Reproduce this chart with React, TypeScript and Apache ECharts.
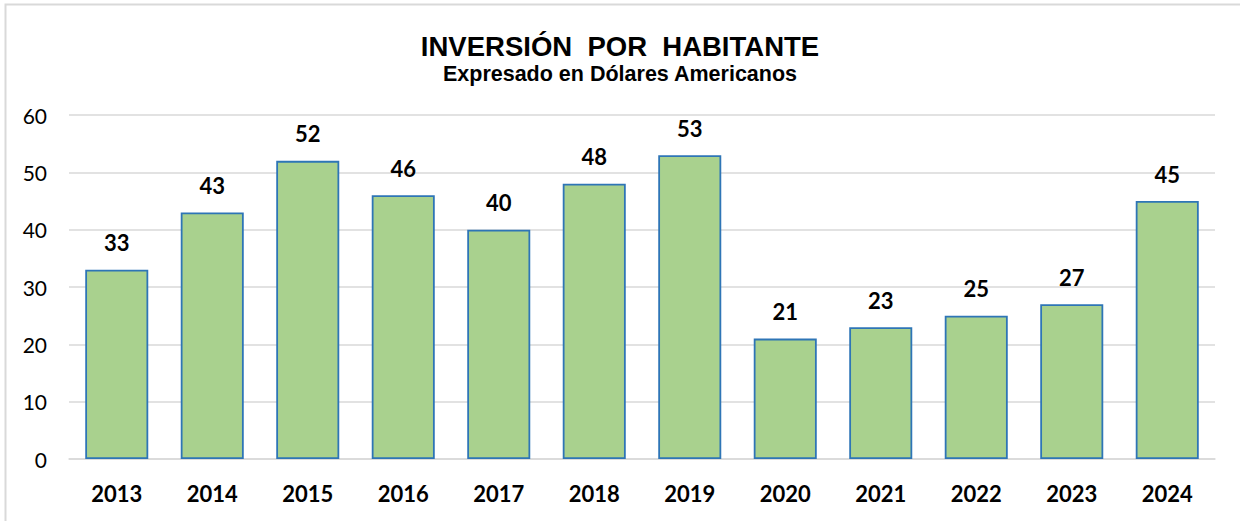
import React, { useEffect, useRef } from "react";
import * as echarts from "echarts";

const years = ["2013", "2014", "2015", "2016", "2017", "2018", "2019", "2020", "2021", "2022", "2023", "2024"];
const inversion = [33, 43, 52, 46, 40, 48, 53, 21, 23, 25, 27, 45];
const yTicks = { min: 0, max: 60, interval: 10 };

export default function App() {
  const ref = useRef<HTMLDivElement>(null);

  useEffect(() => {
    const chart = echarts.init(ref.current!, null, { renderer: "svg" });
    chart.setOption({
      animation: false,
      backgroundColor: "#ffffff",
      graphic: [
        {
          type: "rect",
          shape: { x: 5.5, y: 4.5, width: 1260, height: 540 },
          style: { fill: "none", stroke: "#d9d9d9", lineWidth: 2 },
          silent: true,
        },
      ],
      title: {
        text: "INVERSIÓN  POR  HABITANTE",
        subtext: "Expresado en Dólares Americanos",
        left: "center",
        top: 27,
        itemGap: 3,
        textStyle: {
          fontFamily: "Liberation Sans",
          fontWeight: "bold",
          fontSize: 27.5,
          color: "#000000",
        },
        subtextStyle: {
          fontFamily: "Liberation Sans",
          fontWeight: "bold",
          fontSize: 21.5,
          color: "#000000",
        },
      },
      grid: { left: 69, right: 25, top: 115, bottom: 62 },
      xAxis: {
        type: "category",
        data: years,
        axisLine: { lineStyle: { color: "#d9d9d9", width: 1.5 } },
        axisTick: { show: false },
        axisLabel: {
          fontFamily: "Lato",
          fontWeight: "bold",
          fontSize: 22,
          color: "#000000",
          margin: 23,
        },
      },
      yAxis: {
        type: "value",
        min: yTicks.min,
        max: yTicks.max,
        interval: yTicks.interval,
        axisLine: { show: false },
        axisTick: { show: false },
        splitLine: { lineStyle: { color: "#d9d9d9", width: 1.5 } },
        axisLabel: {
          fontFamily: "Lato",
          fontSize: 21,
          color: "#000000",
          margin: 22,
        },
      },
      series: [
        {
          type: "bar",
          data: inversion,
          barWidth: "66%",
          itemStyle: { color: "#a9d18e", borderColor: "#2e75b6", borderWidth: 1.8 },
          label: {
            show: true,
            position: "top",
            distance: 16,
            fontFamily: "Lato",
            fontWeight: "bold",
            fontSize: 22,
            color: "#000000",
          },
        },
      ],
    });
    return () => chart.dispose();
  }, []);

  return (
    <div
      ref={ref}
      style={{ position: "absolute", left: 0, top: 0, width: 1240, height: 521 }}
    />
  );
}
